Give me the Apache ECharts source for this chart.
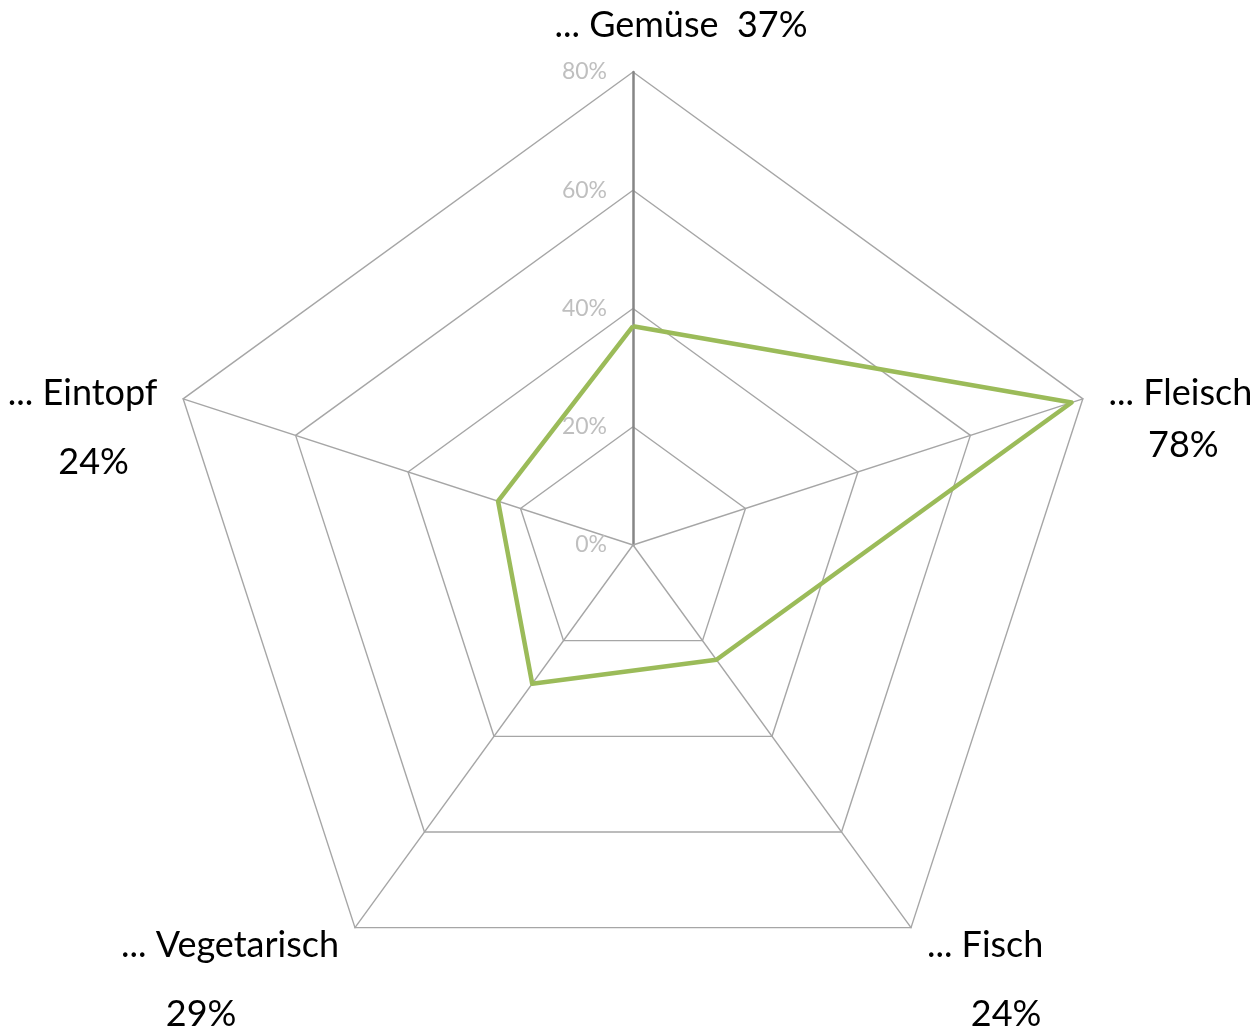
<!DOCTYPE html>
<html>
<head>
<meta charset="utf-8">
<script src="https://cdn.jsdelivr.net/npm/echarts@6/dist/echarts.min.js"></script>
<style>
    html, body { margin: 0; padding: 0; background: #fff; }
    #radarChart { width: 1254px; height: 1028px; }
</style>
</head>
<body>
<div id="radarChart"></div>
<script>
// radar goes counterclockwise from the top
var categories = ['Gemüse', 'Eintopf', 'Vegetarisch', 'Fisch', 'Fleisch'];
var values = [37, 24, 29, 24, 78];
var tickLabels = ['0%', '20%', '40%', '60%', '80%'];
var axisMax = 80;

// rich style keys for each label: spacer line + percent line
var labelSpacer = ['', 'sL', 'sB', 'sB', 'sR'];
var labelValue = ['', 'vL', 'vBL', 'vBR', 'vR'];

var myChart = echarts.init(document.getElementById('radarChart'));

var indicators = categories.map(function (name, i) {
    var item = { name: name, max: axisMax, min: 0 };
    if (i === 0) {
        // only the first spoke carries the scale
        item.axisLabel = { show: true };
        item.axisLine = { lineStyle: { color: '#868686', width: 2.5 } };
    }
    return item;
});

var txt = { fontFamily: 'Lato', fontSize: 36, color: '#000' };

var options = {
    backgroundColor: '#fff',
    radar: {
        center: [633, 545],
        radius: 473,
        shape: 'polygon',
        splitNumber: 4,
        nameGap: 27,
        axisName: {
            color: '#000',
            fontFamily: 'Lato',
            fontSize: 36,
            formatter: function (name) {
                var i = categories.indexOf(name);
                var pct = values[i] + '%';
                if (i === 0) {
                    return '{t|... ' + name + '  ' + pct + '}';
                }
                return '{' + labelSpacer[i] + '|}\n{n|... ' + name + '}\n{' + labelValue[i] + '|' + pct + '}';
            },
            rich: {
                t: Object.assign({ lineHeight: 40, padding: [0, 0, 0, 96] }, txt),
                n: Object.assign({ lineHeight: 52 }, txt),
                vR: Object.assign({ lineHeight: 52, align: 'center', padding: [0, 0, 0, 6] }, txt),
                vL: Object.assign({ lineHeight: 86, align: 'center', padding: [0, 0, 0, 22] }, txt),
                vBL: Object.assign({ lineHeight: 86, align: 'center', padding: [0, 58, 0, 0] }, txt),
                vBR: Object.assign({ lineHeight: 86, align: 'center', padding: [0, 0, 0, 42] }, txt),
                sR: { lineHeight: 58, height: 58 },
                sB: { lineHeight: 78, height: 78 },
                sL: { lineHeight: 92, height: 92 }
            }
        },
        axisLine: {
            lineStyle: { color: '#a6a6a6', width: 1.4 }
        },
        axisTick: { show: false },
        axisLabel: {
            show: false,
            color: '#bfbfbf',
            fontFamily: 'Lato',
            fontSize: 23,
            margin: 26,
            formatter: function (v) {
                return tickLabels[Math.round(v / (axisMax / 4))];
            }
        },
        splitLine: {
            lineStyle: { color: '#a6a6a6', width: 1.4 }
        },
        splitArea: { show: false },
        indicator: indicators
    },
    series: [
        {
            type: 'radar',
            symbol: 'none',
            silent: true,
            lineStyle: { color: '#9bbb59', width: 4.5 },
            data: [{ value: values }]
        }
    ]
};

myChart.setOption(options);
</script>
</body>
</html>
